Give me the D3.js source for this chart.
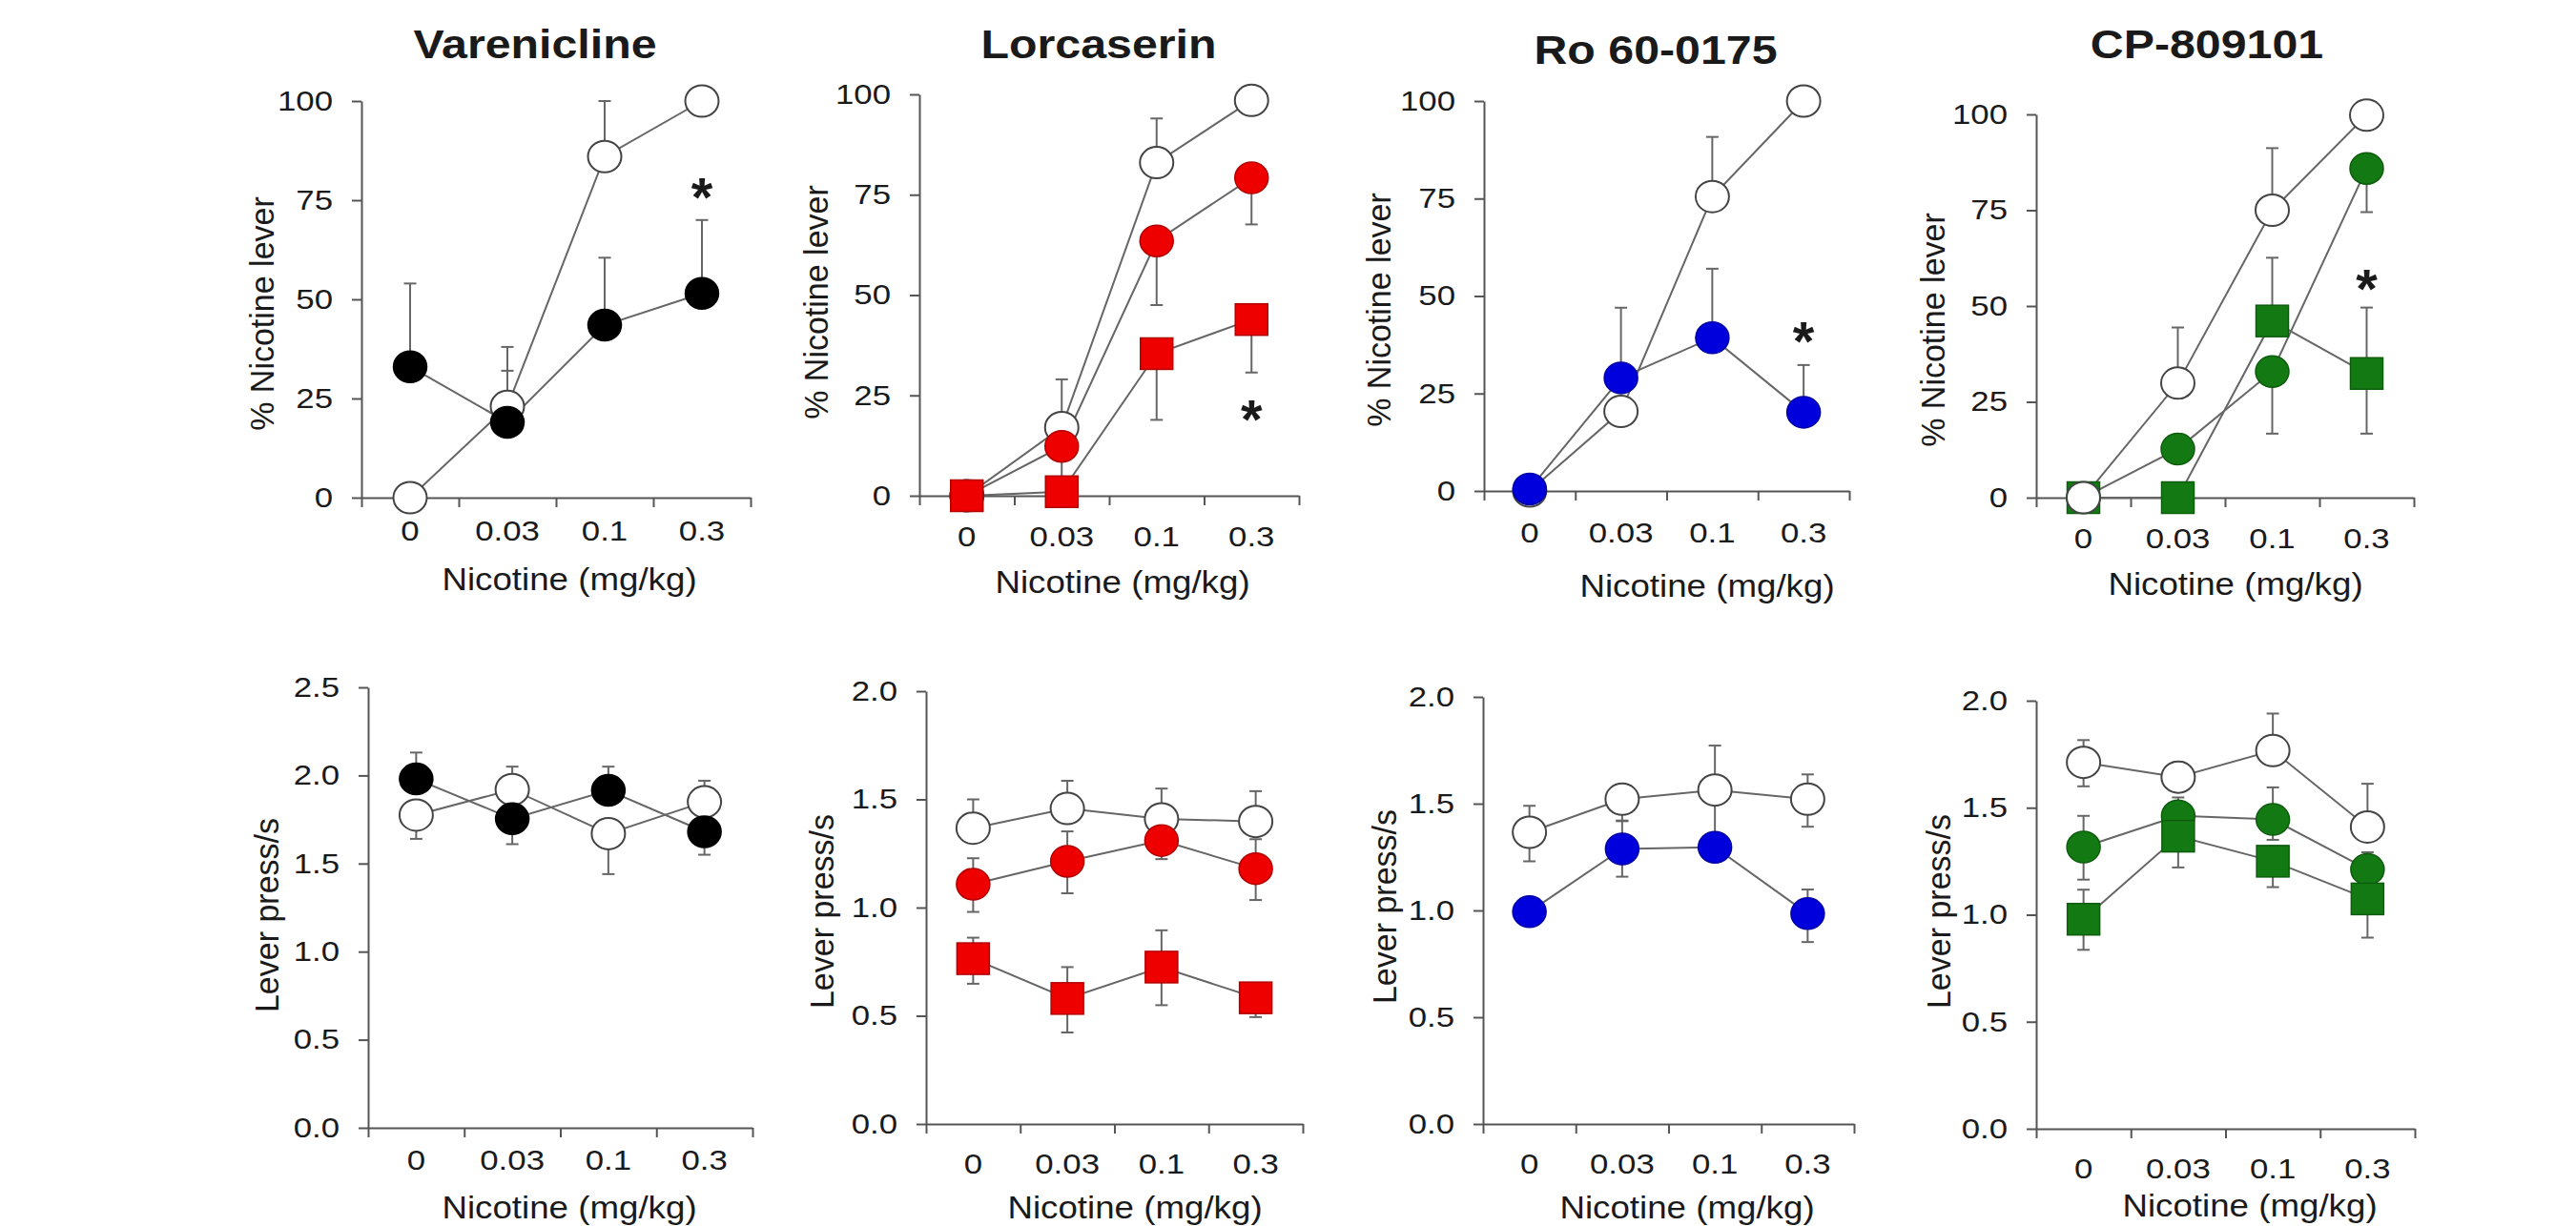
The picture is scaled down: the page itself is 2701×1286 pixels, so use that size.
<!DOCTYPE html>
<html><head><meta charset="utf-8">
<script src="https://cdn.jsdelivr.net/npm/d3@7"></script>
<style>html,body{margin:0;padding:0;background:#fff;} svg{display:block;}</style>
</head><body>
<script>
// ---------------- DATA ----------------
const categories = ["0", "0.03", "0.1", "0.3"];
const panelTitles = ["Varenicline", "Lorcaserin", "Ro 60-0175", "CP-809101"];
const xAxisTitle = "Nicotine (mg/kg)";
const discYTitle = "% Nicotine lever";
const rateYTitle = "Lever press/s";
const discTicks = [0, 25, 50, 75, 100];
const rateTicks25 = [0, 0.5, 1.0, 1.5, 2.0, 2.5];
const rateTicks20 = [0, 0.5, 1.0, 1.5, 2.0];
const significanceMark = "*";

// Varenicline — % nicotine lever
const varDiscVeh = [0, 23, 86, 100];
const varDiscVehUp = [0, 9, 14, 0];
const varDiscDrug = [33, 19, 43.5, 51.5];
const varDiscDrugUp = [21, 19, 17, 18.5];
const varDiscStar = 79;
// Lorcaserin — % nicotine lever
const lorDiscVeh = [0, 17, 83, 98.5];
const lorDiscVehUp = [0, 12, 11, 0];
const lorDiscLow = [0, 12.3, 63.5, 79.2];
const lorDiscLowDown = [0, 8, 16, 11.6];
const lorDiscHigh = [0, 1, 35.4, 43.9];
const lorDiscHighDown = [0, 0, 16.5, 13.2];
const lorDiscStar = 22.3;
// Ro 60-0175 — % nicotine lever
const roDiscVeh = [0, 20.4, 75.5, 100];
const roDiscVehUp = [0, 0, 15.3, 0];
const roDiscDrug = [0.5, 29, 39.3, 20.2];
const roDiscDrugUp = [0, 18, 17.7, 12.1];
const roDiscStar = 41.6;
// CP-809101 — % nicotine lever
const cpDiscVeh = [0, 29.9, 75, 99.8];
const cpDiscVehUp = [0, 14.5, 16.2, 0];
const cpDiscLow = [0, 12.7, 32.9, 85.9];
const cpDiscLowDown = [0, 0, 16.2, 11.4];
const cpDiscHigh = [0, 0, 46.1, 32.4];
const cpDiscHighUp = [0, 0, 16.5, 17.2];
const cpDiscHighDown = [0, 0, 0, 15.7];
const cpDiscStar = 57.8;

// Varenicline — lever press rate
const varRateVeh = [1.775, 1.92, 1.67, 1.85];
const varRateVehUp = [0, 0.13, 0, 0.12];
const varRateVehDown = [0.135, 0, 0.23, 0];
const varRateDrug = [1.98, 1.754, 1.915, 1.68];
const varRateDrugUp = [0.15, 0, 0.135, 0];
const varRateDrugDown = [0, 0.144, 0, 0.13];
// Lorcaserin — lever press rate
const lorRateVeh = [1.367, 1.458, 1.41, 1.398];
const lorRateVehUp = [0.133, 0.128, 0.14, 0.14];
const lorRateLow = [1.108, 1.214, 1.31, 1.18];
const lorRateLowUp = [0.12, 0.138, 0, 0.136];
const lorRateLowDown = [0.128, 0.148, 0.086, 0.145];
const lorRateHigh = [0.764, 0.58, 0.725, 0.583];
const lorRateHighUp = [0.097, 0.145, 0.17, 0.062];
const lorRateHighDown = [0.116, 0.157, 0.176, 0.089];
// Ro 60-0175 — lever press rate
const roRateVeh = [1.366, 1.521, 1.564, 1.521];
const roRateVehUp = [0.124, 0.038, 0.208, 0.116];
const roRateVehDown = [0.136, 0.1, 0.268, 0.129];
const roRateDrug = [0.994, 1.288, 1.296, 0.985];
const roRateDrugUp = [0, 0.13, 0, 0.113];
const roRateDrugDown = [0, 0.13, 0, 0.133];
// CP-809101 — lever press rate
const cpRateVeh = [1.712, 1.643, 1.767, 1.41];
const cpRateVehUp = [0.104, 0.069, 0.173, 0.202];
const cpRateVehDown = [0.112, 0, 0, 0];
const cpRateLow = [1.316, 1.462, 1.445, 1.212];
const cpRateLowUp = [0.146, 0.086, 0.15, 0.08];
const cpRateLowDown = [0.152, 0, 0.095, 0];
const cpRateHigh = [0.979, 1.367, 1.25, 1.074];
const cpRateHighUp = [0.138, 0, 0, 0];
const cpRateHighDown = [0.143, 0.146, 0.121, 0.181];

// ---------------- STYLE ----------------
const W = 2701, H = 1286;
const FONT = "'Liberation Sans', Arial, Helvetica, sans-serif";
const textColor = "#1a1a1a";
const axisColor = "#555";
const lineColor = "#666";
const vehicleStroke = "#444";
const varColor = "#000000";
const lorColor = "#ee0000";
const roColor = "#0000dd";
const cpColor = "#137a13";
const zeros = [0, 0, 0, 0];

function S(values, up, down, shape, fill) {
  return {values, up: up || zeros, down: down || zeros, shape, fill};
}

// layout per panel (pixel positions)
const panels = [
  {title: panelTitles[0], titleX: 561, titleY: 61, x0: 379, x1: 787, yTop: 106, yBottom: 522, yMax: 100, ticks: discTicks, fmt: d3.format("d"),
   tickBase: 567, xtX: 597, xtY: 619, ytX: 275, ytY: 329, ytitle: discYTitle,
   series: [S(varDiscVeh, varDiscVehUp, null, "circle", "#fff"), S(varDiscDrug, varDiscDrugUp, null, "circle", varColor)],
   star: varDiscStar},
  {title: panelTitles[1], titleX: 1152, titleY: 61, x0: 964, x1: 1362, yTop: 99, yBottom: 520, yMax: 100, ticks: discTicks, fmt: d3.format("d"),
   tickBase: 573, xtX: 1177, xtY: 622, ytX: 856, ytY: 317, ytitle: discYTitle,
   series: [S(lorDiscVeh, lorDiscVehUp, null, "circle", "#fff"), S(lorDiscLow, null, lorDiscLowDown, "circle", lorColor), S(lorDiscHigh, null, lorDiscHighDown, "square", lorColor)],
   star: lorDiscStar},
  {title: panelTitles[2], titleX: 1736, titleY: 67, x0: 1556, x1: 1939, yTop: 106, yBottom: 515, yMax: 100, ticks: discTicks, fmt: d3.format("d"),
   tickBase: 569, xtX: 1790, xtY: 626, ytX: 1446, ytY: 325, ytitle: discYTitle,
   series: [S(roDiscVeh, roDiscVehUp, null, "circle", "#fff"), S(roDiscDrug, roDiscDrugUp, null, "circle", roColor)],
   star: roDiscStar},
  {title: panelTitles[3], titleX: 2314, titleY: 61, x0: 2135, x1: 2531, yTop: 120, yBottom: 522, yMax: 100, ticks: discTicks, fmt: d3.format("d"),
   tickBase: 575, xtX: 2344, xtY: 624, ytX: 2027, ytY: 346, ytitle: discYTitle,
   series: [S(cpDiscHigh, cpDiscHighUp, cpDiscHighDown, "square", cpColor), S(cpDiscLow, null, cpDiscLowDown, "circle", cpColor), S(cpDiscVeh, cpDiscVehUp, null, "circle", "#fff")],
   star: cpDiscStar},
  {title: null, x0: 386, x1: 789, yTop: 721, yBottom: 1183, yMax: 2.5, ticks: rateTicks25, fmt: d3.format(".1f"),
   tickBase: 1227, xtX: 597, xtY: 1278, ytX: 280, ytY: 960, ytitle: rateYTitle,
   series: [S(varRateVeh, varRateVehUp, varRateVehDown, "circle", "#fff"), S(varRateDrug, varRateDrugUp, varRateDrugDown, "circle", varColor)]},
  {title: null, x0: 971, x1: 1366, yTop: 725, yBottom: 1179, yMax: 2.0, ticks: rateTicks20, fmt: d3.format(".1f"),
   tickBase: 1231, xtX: 1190, xtY: 1278, ytX: 862, ytY: 956, ytitle: rateYTitle,
   series: [S(lorRateVeh, lorRateVehUp, null, "circle", "#fff"), S(lorRateLow, lorRateLowUp, lorRateLowDown, "circle", lorColor), S(lorRateHigh, lorRateHighUp, lorRateHighDown, "square", lorColor)]},
  {title: null, x0: 1555, x1: 1944, yTop: 731, yBottom: 1179, yMax: 2.0, ticks: rateTicks20, fmt: d3.format(".1f"),
   tickBase: 1231, xtX: 1769, xtY: 1278, ytX: 1452, ytY: 951, ytitle: rateYTitle,
   series: [S(roRateVeh, roRateVehUp, roRateVehDown, "circle", "#fff"), S(roRateDrug, roRateDrugUp, roRateDrugDown, "circle", roColor)]},
  {title: null, x0: 2135, x1: 2532, yTop: 735, yBottom: 1184, yMax: 2.0, ticks: rateTicks20, fmt: d3.format(".1f"),
   tickBase: 1236, xtX: 2359, xtY: 1276, ytX: 2033, ytY: 956, ytitle: rateYTitle,
   series: [S(cpRateVeh, cpRateVehUp, cpRateVehDown, "circle", "#fff"), S(cpRateLow, cpRateLowUp, cpRateLowDown, "circle", cpColor), S(cpRateHigh, cpRateHighUp, cpRateHighDown, "square", cpColor)]}
];

const svg = d3.select("body").append("svg").attr("width", W).attr("height", H)
  .style("background", "#fff");

function addText(g, str, x, y, opt) {
  const t = g.append("text")
    .attr("transform", `translate(${x},${y})` + (opt.rotate ? ` rotate(${opt.rotate})` : "") + ` scale(${opt.sx || 1},${opt.sy || 1})`)
    .attr("text-anchor", opt.anchor || "middle")
    .attr("font-family", FONT)
    .attr("font-size", opt.size)
    .attr("font-weight", opt.weight || "normal")
    .attr("fill", textColor)
    .text(str);
  return t;
}

const TICK_FONT = 29, TICK_SX = 1.2;

panels.forEach(p => {
  const g = svg.append("g");
  const x = d3.scaleBand().domain(categories).range([p.x0, p.x1]);
  const cx = c => x(c) + x.bandwidth() / 2;
  const y = d3.scaleLinear().domain([0, p.yMax]).range([p.yBottom, p.yTop]);
  const xEdge = d3.scaleLinear().domain([0, categories.length]).range([p.x0, p.x1]);

  // x axis (ticks at band edges)
  const gx = g.append("g").attr("transform", `translate(0,${p.yBottom})`)
    .call(d3.axisBottom(xEdge).tickValues(d3.range(categories.length + 1)).tickFormat("").tickSize(10).tickSizeOuter(0));
  // y axis
  const gy = g.append("g").attr("transform", `translate(${p.x0},0)`)
    .call(d3.axisLeft(y).tickValues(p.ticks).tickFormat(p.fmt).tickSize(10).tickPadding(20).tickSizeOuter(0));
  [gx, gy].forEach(a => {
    a.select(".domain").attr("stroke", axisColor).attr("stroke-width", 2);
    a.selectAll(".tick line").attr("stroke", axisColor).attr("stroke-width", 2);
  });
  gy.selectAll(".tick text").each(function() {
    const t = d3.select(this);
    const tx = +t.attr("x");
    t.attr("x", 0).attr("transform", `translate(${tx},0) scale(${TICK_SX},1)`)
      .attr("font-family", FONT).attr("font-size", TICK_FONT).attr("fill", textColor);
  });

  // x category labels
  categories.forEach(c => addText(g, c, cx(c), p.tickBase, {size: TICK_FONT, sx: TICK_SX}));

  // titles
  if (p.title) addText(g, p.title, p.titleX, p.titleY, {size: 42, weight: "bold", sx: 1.15});
  addText(g, xAxisTitle, p.xtX, p.xtY, {size: 34, sx: 1.08});
  addText(g, p.ytitle, p.ytX + 12, p.ytY, {size: 34, rotate: -90, sy: 1.05});

  const lineGen = d3.line().x((d, i) => cx(categories[i])).y(d => y(d));
  // connecting lines
  p.series.forEach(s => {
    g.append("path").datum(s.values).attr("d", lineGen)
      .attr("fill", "none").attr("stroke", lineColor).attr("stroke-width", 2);
  });
  // error bars
  const cap = 6.5;
  p.series.forEach(s => {
    s.values.forEach((v, i) => {
      const xc = cx(categories[i]);
      [[s.up[i], 1], [s.down[i], -1]].forEach(([e, dir]) => {
        if (!e) return;
        const yEnd = y(v + dir * e);
        g.append("line").attr("x1", xc).attr("x2", xc).attr("y1", y(v)).attr("y2", yEnd)
          .attr("stroke", lineColor).attr("stroke-width", 2);
        g.append("line").attr("x1", xc - cap).attr("x2", xc + cap).attr("y1", yEnd).attr("y2", yEnd)
          .attr("stroke", lineColor).attr("stroke-width", 2);
      });
    });
  });
  // markers
  p.series.forEach(s => {
    const isVeh = s.fill === "#fff";
    const stroke = isVeh ? vehicleStroke : d3.color(s.fill).darker(0.8).formatHex();
    s.values.forEach((v, i) => {
      const xc = cx(categories[i]), yc = y(v);
      if (s.shape === "circle") {
        g.append("ellipse").attr("cx", xc).attr("cy", yc).attr("rx", 17.5).attr("ry", 16.5)
          .attr("fill", s.fill).attr("stroke", stroke).attr("stroke-width", isVeh ? 2 : 1.5);
      } else {
        g.append("rect").attr("x", xc - 17).attr("y", yc - 16.5).attr("width", 34).attr("height", 33)
          .attr("fill", s.fill).attr("stroke", stroke).attr("stroke-width", 1.5);
      }
    });
  });
  // significance asterisk at highest dose
  if (p.star !== undefined) {
    const fs = 58;
    addText(g, significanceMark, cx(categories[3]), y(p.star) + 0.58 * fs, {size: fs, weight: "bold"});
  }
});
</script>
</body></html>
